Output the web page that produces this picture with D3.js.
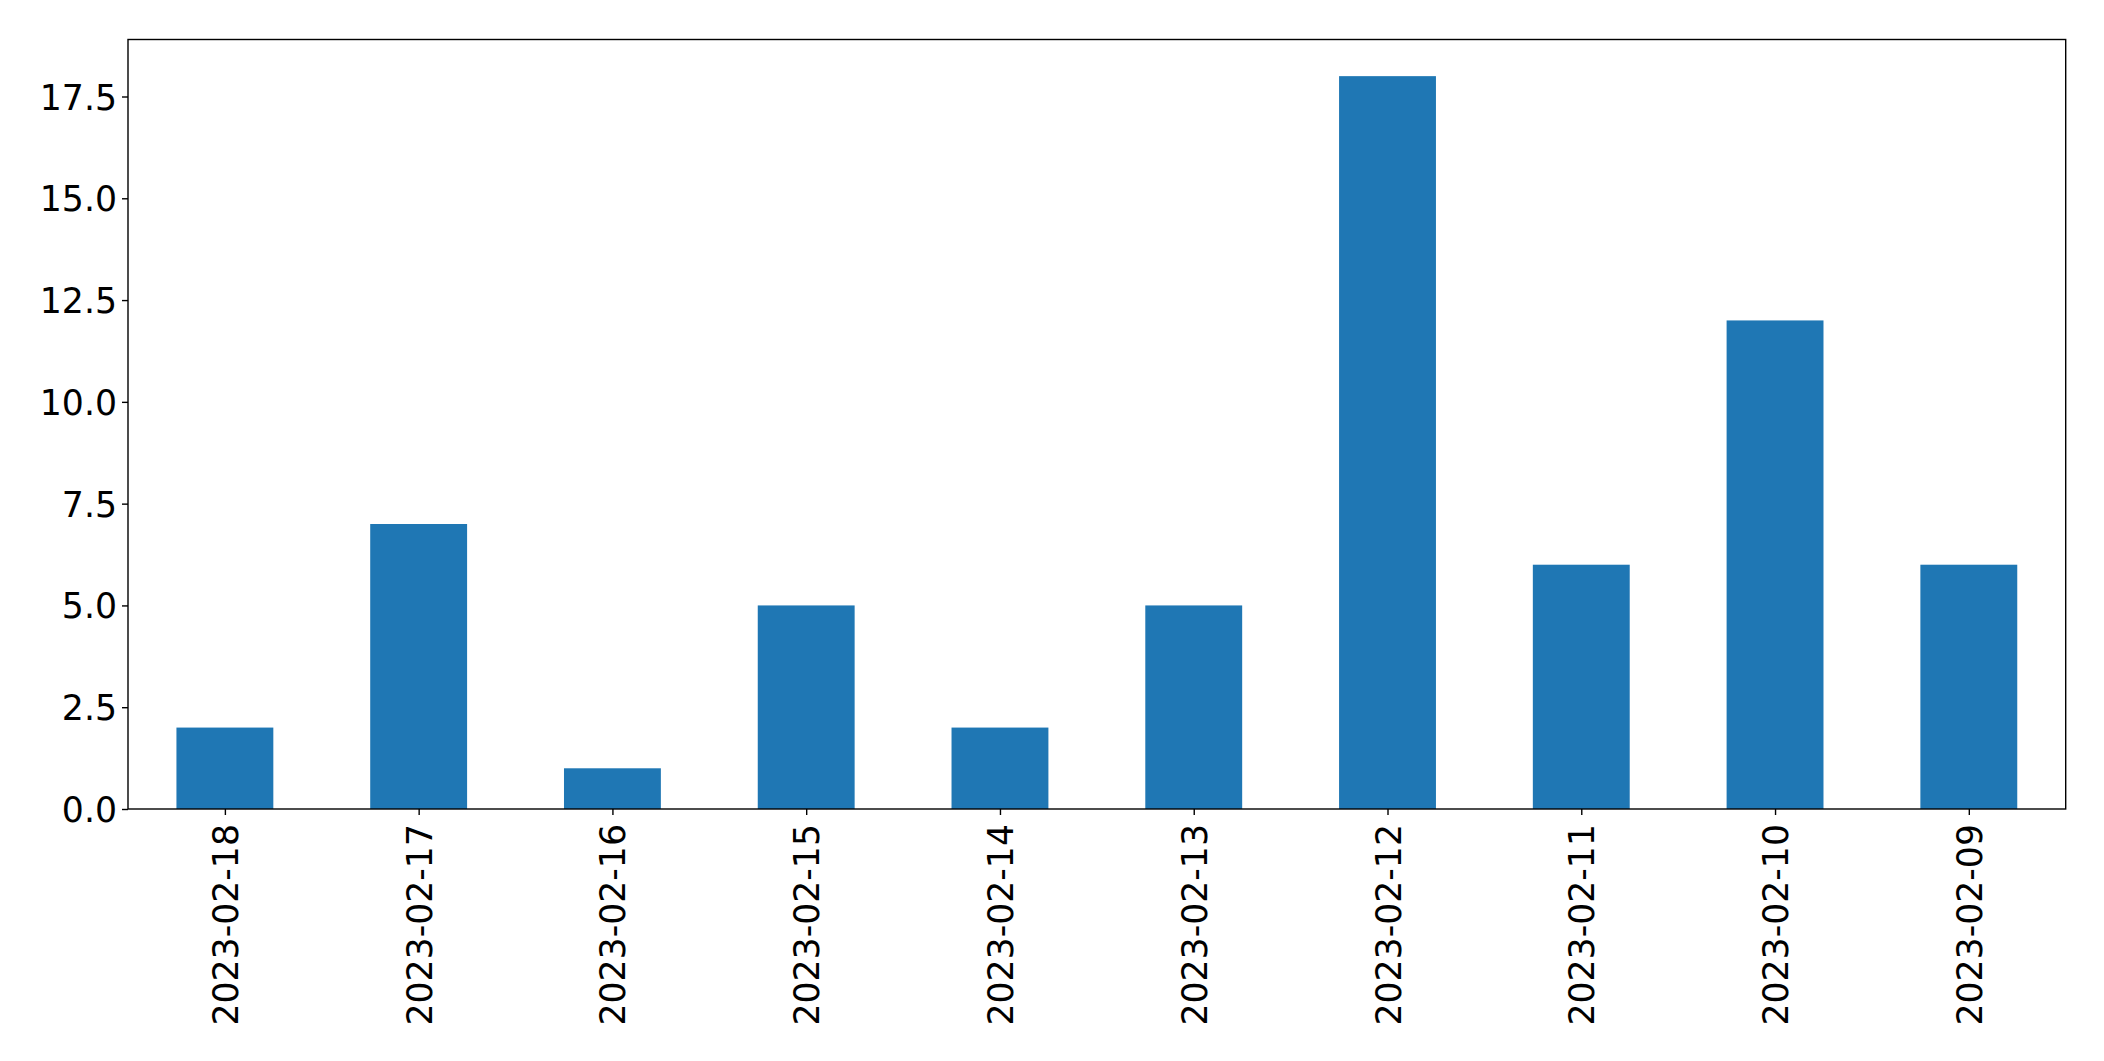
<!DOCTYPE html>
<html>
<head>
<meta charset="utf-8">
<script src="https://cdn.jsdelivr.net/npm/d3@7"></script>
<style>
  html, body { margin: 0; padding: 0; background: #fff; }
  svg { display: block; }
</style>
</head>
<body>
<svg id="chart" width="2104" height="1061"></svg>
<script>
const categories = ["2023-02-18","2023-02-17","2023-02-16","2023-02-15","2023-02-14","2023-02-13","2023-02-12","2023-02-11","2023-02-10","2023-02-09"];
const values = [2, 7, 1, 5, 2, 5, 18, 6, 12, 6];
const yTicks = [0, 2.5, 5, 7.5, 10, 12.5, 15, 17.5];

const W = 2104, H = 1061;
const margin = {left: 128, top: 39.5, right: W - 2065.7, bottom: H - 809};
const iw = W - margin.left - margin.right;
const ih = H - margin.top - margin.bottom;
const fontSize = 34.7;
const fontFamily = "'DejaVu Sans', sans-serif";

const svg = d3.select("#chart");
const g = svg.append("g").attr("transform", `translate(${margin.left},${margin.top})`);

// linear x index scale mimicking matplotlib's xlim (-0.5, n-0.5)
const x = d3.scaleLinear().domain([-0.5, categories.length - 0.5]).range([0, iw]);
const yMax = d3.max(values) * 1.05;
const y = d3.scaleLinear().domain([0, yMax]).range([ih, 0]);
const barW = 0.5;

g.selectAll("rect.bar").data(values).join("rect")
  .attr("class", "bar")
  .attr("x", (d, i) => x(i - barW / 2))
  .attr("width", (d, i) => x(i + barW / 2) - x(i - barW / 2))
  .attr("y", d => y(d))
  .attr("height", d => y(0) - y(d))
  .attr("fill", "#1f77b4");

// Y axis
const yAxis = d3.axisLeft(y).tickValues(yTicks).tickFormat(d3.format(".1f")).tickSize(6).tickPadding(5);
const yg = g.append("g").call(yAxis);
yg.select(".domain").remove();
yg.selectAll(".tick line").attr("stroke", "#000").attr("stroke-width", 1.4);
yg.selectAll(".tick text")
  .attr("font-family", fontFamily).attr("font-size", fontSize).attr("fill", "#000")
  .attr("dy", "0.36em");

// X axis
const xAxis = d3.axisBottom(x).tickValues(d3.range(categories.length)).tickFormat(i => categories[i]).tickSize(6).tickPadding(0);
const xg = g.append("g").attr("transform", `translate(0,${ih})`).call(xAxis);
xg.select(".domain").remove();
xg.selectAll(".tick line").attr("stroke", "#000").attr("stroke-width", 1.4);
xg.selectAll(".tick text")
  .attr("font-family", fontFamily).attr("font-size", fontSize).attr("fill", "#000")
  .attr("text-anchor", "end")
  .attr("transform", "translate(0,15) rotate(-90)")
  .attr("x", 0).attr("y", 0)
  .attr("dy", "0.36em");

// frame
g.append("rect").attr("x", 0).attr("y", 0).attr("width", iw).attr("height", ih)
  .attr("fill", "none").attr("stroke", "#000").attr("stroke-width", 1.4);
</script>
</body>
</html>
